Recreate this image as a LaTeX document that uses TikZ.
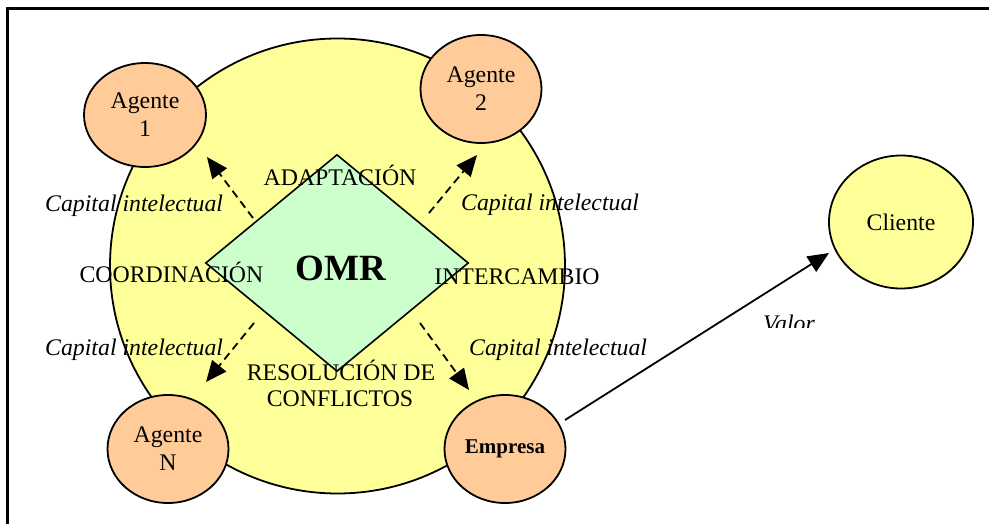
\documentclass[tikz,border=0pt]{standalone}
\usepackage{fontspec}
\setmainfont{Liberation Serif}
\usetikzlibrary{arrows.meta,shapes.geometric}
\definecolor{ylw}{HTML}{FFFF99}
\definecolor{org}{HTML}{FFCC99}
\definecolor{grn}{HTML}{CCFFCC}
\begin{document}
\begin{tikzpicture}[x=1pt,y=-1pt,
  txt/.style={font=\fontsize{23.8}{28}\selectfont},
  agent/.style={ellipse,draw,line width=1.8pt,fill=org,minimum width=121pt,minimum height=108pt,inner sep=0pt,align=center,txt},
  lbl/.style={txt,anchor=base,inner sep=0pt},
  capi/.style={font=\fontsize{23.8}{28}\selectfont\itshape,anchor=base west,inner sep=0pt},
  dasharrow/.style={line width=1.8pt,dash pattern=on 8pt off 5pt,-{Triangle[length=21pt,width=18pt]}},
  solidarrow/.style={line width=1.8pt,-{Triangle[length=21pt,width=18pt]}}
]
\useasboundingbox (0,0) rectangle (989,524);
% frame
\draw[line width=3pt] (989,9) -- (7,9) -- (7,524);
% big circle
\node[circle,draw,line width=1.8pt,fill=ylw,minimum size=455pt,inner sep=0pt] (org) at (337.5,266) {};
% diamond
\node[diamond,draw,line width=1.6pt,fill=grn,minimum width=263pt,minimum height=217pt,inner sep=0pt] (omr) at (337,263) {};
\node[lbl,font=\fontsize{37}{40}\selectfont\bfseries] (omrt) at (341,280) {OMR};
% labels
\node[lbl] (adap) at (340,186) {ADAPTACIÓN};
\node[lbl] (coord) at (171.5,283) {COORDINACIÓN};
\node[lbl] (inter) at (517,284) {INTERCAMBIO};
\node[lbl] (reso1) at (341,380) {RESOLUCIÓN DE};
\node[lbl] (reso2) at (340,406) {CONFLICTOS};
% agents
\node[agent,minimum width=122pt,minimum height=104pt] (ag1) at (145,115) {Agente\\1};
\node[agent] (ag2) at (481,89) {Agente\\2};
\node[agent] (agn) at (168,449) {Agente\\N};
\node[agent,font=\fontsize{21}{25}\selectfont\bfseries] (emp) at (505,449) {Empresa};
\node[agent,fill=ylw,minimum width=144pt,minimum height=133pt] (cli) at (901,222) {Cliente};
% capital labels
\node[capi] (c1) at (45,212) {Capital intelectual};
\node[capi] (c2) at (461,211) {Capital intelectual};
\node[capi] (c3) at (45,355) {Capital intelectual};
\node[capi] (c4) at (469,355) {Capital intelectual};
% dashed arrows
\coordinate (d1s) at (253,218); \coordinate (d1e) at (207,157);
\coordinate (d2s) at (429,213); \coordinate (d2e) at (477,155);
\coordinate (d3s) at (254,323); \coordinate (d3e) at (206,382);
\coordinate (d4s) at (420,323); \coordinate (d4e) at (469,390);
\draw[dasharrow] (d1s) -- (d1e);
\draw[dasharrow] (d2s) -- (d2e);
\draw[dasharrow] (d3s) -- (d3e);
\draw[dasharrow] (d4s) -- (d4e);
% value arrow
\coordinate (vs) at (565,420);
\coordinate (ve) at (829,253);
\draw[solidarrow] (vs) -- (ve);
\begin{scope}
\clip (740,300) rectangle (840,327);
\node[capi] (valor) at (763,331) {Valor};
\end{scope}
\end{tikzpicture}
\end{document}
